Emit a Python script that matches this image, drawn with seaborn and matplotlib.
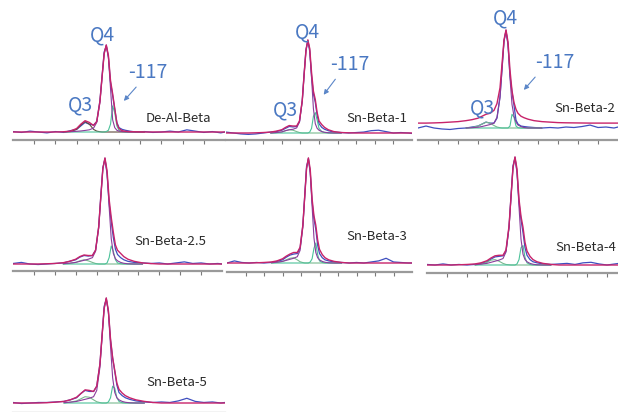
import matplotlib
matplotlib.use("Agg")
import matplotlib.pyplot as plt
from matplotlib.patches import FancyArrowPatch
import seaborn as sns

# ---- data (intensity, main Q4 fit peak = 100) ----
samples = ["De-Al-Beta", "Sn-Beta-1", "Sn-Beta-2", "Sn-Beta-2.5",
           "Sn-Beta-3", "Sn-Beta-4", "Sn-Beta-5"]

ppm = [-70, -74, -78, -82, -86, -90, -94, -97, -100, -102, -104, -106, -108,
       -109.5, -111, -112, -113, -114, -115, -116, -117, -118, -119, -120,
       -121.5, -123, -125, -128, -132, -136, -140, -144, -148, -152, -156,
       -160, -164, -168, -170]
peak_ppm = ppm[6:29]  # -94 ... -132, range of the fitted components

exp_y = [
    [0.5, -0.5, 1, 0, -1, 0.5, -0.5, 1.5, 3, 7, 11, 9, 8, 12, 36, 64, 92, 99, 86, 57,
     42, 26, 11, 5, 3, 2, 1, 0, 0.5, -0.5, 0, 1, 0, 2.5, 1, -0.5, 0.5, -1, 0],
    [1, 0, -1, -1.5, -1, 0, 1, 1.5, 3, 5, 7, 6.5, 7, 12, 35, 64, 90, 99, 88, 61,
     42, 33, 19, 10, 6, 4, 2.5, 1, 0.5, 0, 0.5, 1, 2.5, 3, 1.5, 0, 0.5, 0, -0.5],
    [0, 2, 0, -1, -1.5, -0.5, 0, 1, 2, 4, 6, 5, 5, 10, 32, 60, 89, 99, 85, 53,
     37, 23, 8, 4, 2, 1.5, 1, 0.5, 0, 0.5, 0, 1, 0.5, 1.5, 3, 0.5, 1, 0, 1],
    [0.5, 1.5, 0, -0.5, 0, 0.5, 1, 2.5, 4, 6.5, 8, 7.5, 8, 13, 35, 64, 91, 99, 85, 57,
     40, 25, 14, 9, 6, 4, 2.5, 1.5, 1, 0.5, 1, 0, 1, 2, 0.5, 1, 0, 0.5, 0],
    [0, 2, 0.5, 0, 0.5, 0, 0.5, 1.5, 3, 5.5, 7.5, 8.5, 9, 14, 36, 64, 92, 99, 86, 58,
     42, 32, 17, 9, 5, 3, 2, 1, 0.5, 0, 0.5, 0, 1, 2, 4.5, 1, 0.5, 0, 0],
    [0.5, 0, 1, 0, 0.5, 0, 0.5, 1.5, 3, 5.5, 7.5, 8, 8.5, 13, 35, 64, 92, 99, 86, 58,
     42, 30, 16, 9, 5, 3, 2, 1, 0.5, 1, 1.5, 0.5, 2, 2.5, 1, 0, 1, 2, 0.5],
    [0.5, -0.5, 0, 0.5, 0.5, 1, 1.5, 3, 5, 9, 12, 11, 11, 16, 37, 64, 92, 99, 87, 60,
     43, 30, 17, 10, 7, 5, 3.5, 2, 1, 0.5, 1, 0.5, 2, 4.5, 1.5, 0.5, 1, 0, 0.5],
]

fit_y = [
    [0, 0, 0, 0, 0, 0, 0.3, 1, 4, 9, 13, 11, 7.5, 12, 35, 63, 90, 100, 88, 59,
     44, 27, 10, 4, 1.5, 0.8, 0.4, 0.2, 0, 0, 0, 0, 0, 0, 0, 0, 0, 0, 0],
    [0, 0, 0, 0, 0.2, 0.5, 1, 2, 3.5, 6, 8, 7.5, 7.5, 13, 35, 63, 89, 100, 91, 65,
     45, 36, 22, 13, 9, 6, 3.5, 1.5, 0.5, 0.2, 0, 0, 0, 0, 0, 0, 0, 0, 0],
    [5, 5, 5.2, 5.5, 6, 6.5, 7.5, 8.5, 10, 12, 14, 15, 18, 25, 41, 65, 90, 100, 88, 59,
     38, 26, 19, 15, 12, 10.5, 9, 7.5, 6.5, 6, 5.5, 5.3, 5.2, 5.1, 5, 5, 5, 5, 5],
    [0, 0, 0, 0, 0.2, 0.5, 1.2, 2.5, 4.5, 7, 8.5, 8, 8, 13, 35, 63, 90, 100, 88, 61,
     44, 30, 18, 13, 10, 7, 4.5, 2.5, 1, 0.4, 0, 0, 0, 0, 0, 0, 0, 0, 0],
    [0, 0, 0, 0, 0.2, 0.5, 1, 2, 4, 6.5, 8.5, 10, 10, 15, 36, 63, 90, 100, 89, 61,
     45, 36, 22, 13, 8, 5, 3, 1.5, 0.5, 0, 0, 0, 0, 0, 0, 0, 0, 0, 0],
    [0, 0, 0, 0, 0.2, 0.5, 1, 2, 4, 6.5, 8.5, 9, 9, 14, 36, 63, 90, 100, 89, 61,
     45, 35, 21, 13, 8, 5, 3, 1.5, 0.5, 0, 0, 0, 0, 0, 0, 0, 0, 0, 0],
    [0, 0, 0, 0, 0.3, 0.8, 1.5, 3, 5.5, 9, 12.5, 12, 11, 16, 37, 64, 90, 100, 88, 61,
     43, 31, 19, 13, 9.5, 7, 5, 3, 1.5, 0.5, 0, 0, 0, 0, 0, 0, 0, 0, 0],
]

q3_y = [
    [0, 0.5, 3, 8, 12, 9, 3, 1, 0.3, 0, 0, 0, 0, 0, 0, 0, 0, 0, 0, 0, 0, 0, 0],
    [0, 0.3, 1, 2.5, 3.5, 3, 1.5, 0.5, 0, 0, 0, 0, 0, 0, 0, 0, 0, 0, 0, 0, 0, 0, 0],
    [0, 0.5, 2, 4, 6, 5, 2.5, 1, 0.3, 0, 0, 0, 0, 0, 0, 0, 0, 0, 0, 0, 0, 0, 0],
    [0, 0.5, 1.5, 3, 4, 3, 1.5, 0.5, 0, 0, 0, 0, 0, 0, 0, 0, 0, 0, 0, 0, 0, 0, 0],
    [0, 0.5, 1.5, 3, 4.5, 5, 3, 1.2, 0.4, 0, 0, 0, 0, 0, 0, 0, 0, 0, 0, 0, 0, 0, 0],
    [0, 0.8, 2.5, 4.5, 5, 3.5, 1.5, 0.5, 0.2, 0, 0, 0, 0, 0, 0, 0, 0, 0, 0, 0, 0, 0, 0],
    [0, 0.8, 2, 4, 6, 5.5, 3, 1.2, 0.4, 0, 0, 0, 0, 0, 0, 0, 0, 0, 0, 0, 0, 0, 0],
]

q4_y = [
    [0, 0.3, 0.8, 1.2, 1.8, 2.5, 4.5, 11, 34, 62, 90, 100, 86, 50, 14, 5, 2, 1, 0.5, 0.2, 0, 0, 0],
    [0, 0.5, 1.2, 2.5, 3.5, 4, 5.5, 12, 34, 62, 88, 100, 90, 59, 26, 10, 5, 3, 1.5, 0.8, 0.3, 0, 0],
    [0, 0.3, 0.8, 1.5, 2.5, 3.5, 5, 11, 31, 59, 88, 100, 85, 51, 24, 12, 6, 3, 1.5, 0.5, 0, 0, 0],
    [0.3, 0.8, 1.5, 2.5, 3.5, 4.5, 6, 12, 34, 62, 90, 100, 86, 54, 24, 10, 5, 3, 1.5, 0.7, 0.2, 0, 0],
    [0.3, 0.8, 1.5, 2.5, 3.5, 4.5, 6, 12, 34, 62, 90, 100, 86, 54, 24, 10, 5, 3, 1.5, 0.7, 0.2, 0, 0],
    [0.3, 0.8, 1.5, 2.5, 3.5, 4.5, 6, 12, 34, 62, 90, 100, 86, 54, 24, 10, 5, 3, 1.5, 0.7, 0.2, 0, 0],
    [0.3, 0.8, 1.5, 2.5, 3.5, 4.5, 6, 12, 34, 62, 90, 100, 86, 54, 24, 10, 5, 3, 1.5, 0.7, 0.2, 0, 0],
]

t117_y = [
    [0, 0, 0, 0, 0, 0, 0, 0, 0, 0, 0, 0.5, 2, 9, 30, 22, 7, 2, 0.5, 0, 0, 0, 0],
    [0, 0, 0, 0, 0, 0, 0, 0, 0, 0, 0, 0, 1, 5, 18, 22, 14, 5, 1.5, 0.5, 0, 0, 0],
    [0, 0, 0, 0, 0, 0, 0, 0, 0, 0, 0, 0, 0, 2, 14, 11, 2, 0.3, 0, 0, 0, 0, 0],
    [0, 0, 0, 0, 0, 0, 0, 0, 0, 0, 0, 0, 1, 6, 17, 12, 4, 1, 0.3, 0, 0, 0, 0],
    [0, 0, 0, 0, 0, 0, 0, 0, 0, 0, 0, 0, 1, 4, 14, 19, 8, 2, 0.5, 0, 0, 0, 0],
    [0, 0, 0, 0, 0, 0, 0, 0, 0, 0, 0, 0, 1, 5, 16, 18, 7, 2, 0.5, 0, 0, 0, 0],
    [0, 0, 0, 0, 0, 0, 0, 0, 0, 0, 0, 0, 1, 5, 16, 14, 5, 1.5, 0.3, 0, 0, 0, 0],
]

# ---- layout in pixels: left, right, axis line y, baseline y, peak y ----
W, H = 618, 412
boxes = [
    (13, 225, 140, 132, 45),
    (226, 412, 140, 133, 40),
    (418, 618, 140, 128, 30),
    (13, 222, 271, 264, 158),
    (227, 412, 272, 263, 158),
    (427, 627, 273, 265, 157),
    (13, 225, 412.5, 403, 298),
]
name_pos = [(146, 119), (346, 118), (554, 108), (134, 242), (346, 237), (555, 248), (146, 383)]

sns.set_style("white")
plt.rcParams["font.family"] = ["Noto Sans CJK SC", "DejaVu Sans"]

fig = plt.figure(figsize=(W / 100, H / 100), dpi=100)

blue, mag, purple, teal = "#3f4fbf", "#c8236a", "#8a3d9c", "#4cc29a"

for i, (l, r, ay, by, py) in enumerate(boxes):
    top = py - 12
    ax = fig.add_axes([l / W, 1 - ay / H, (r - l) / W, (ay - top) / H])
    ax.patch.set_alpha(0)
    s = (by - py) / 100.0
    ax.set_ylim(-(ay - by) / s, (by - top) / s)
    ax.set_xlim(-70, -170)

    sns.lineplot(x=ppm, y=exp_y[i], ax=ax, color=blue, lw=0.9, sort=False, estimator=None)
    q3c = "#5e4b3c" if i == 0 else "#79b98f"
    sns.lineplot(x=peak_ppm, y=q3_y[i], ax=ax, color=q3c, lw=0.8, sort=False, estimator=None)
    sns.lineplot(x=peak_ppm, y=t117_y[i], ax=ax, color=teal, lw=0.8, sort=False, estimator=None)
    sns.lineplot(x=peak_ppm, y=q4_y[i], ax=ax, color=purple, lw=0.8, sort=False, estimator=None)
    sns.lineplot(x=ppm, y=fit_y[i], ax=ax, color=mag, lw=1.0, sort=False, estimator=None)

    for side in ["left", "right", "top"]:
        ax.spines[side].set_visible(False)
    ax.spines["bottom"].set_color("#9a9a9a")
    ax.spines["bottom"].set_linewidth(1.6)
    ax.set_xticks(list(range(-80, -161, -10)))
    ax.tick_params(axis="x", bottom=True, direction="out", length=3, width=0.8,
                   colors="#7a7a7a", labelbottom=False)
    ax.set_yticks([])
    ax.set_xlabel("")
    ax.set_ylabel("")

    nx, ny = name_pos[i]
    fig.text(nx / W, 1 - ny / H, samples[i], ha="left", va="center", fontsize=9.5, color="#2b2b2b")

# peak labels on the first row
lab = "#4a78c2"
row1 = [
    ((102, 35), (148, 72), (80, 105), (138, 85), (122, 103)),
    ((307, 32), (350, 65), (285, 110), (337, 77), (322, 97)),
    ((505, 18), (555, 62), (482, 108), (537, 75), (522, 92)),
]
for q4p, tp, q3p, a0, a1 in row1:
    fig.text(q4p[0] / W, 1 - q4p[1] / H, "Q4", ha="center", va="center", fontsize=14, color=lab)
    fig.text(tp[0] / W, 1 - tp[1] / H, "-117", ha="center", va="center", fontsize=14, color=lab)
    fig.text(q3p[0] / W, 1 - q3p[1] / H, "Q3", ha="center", va="center", fontsize=14, color=lab)
    fig.add_artist(FancyArrowPatch((a0[0] / W, 1 - a0[1] / H), (a1[0] / W, 1 - a1[1] / H),
                                   transform=fig.transFigure, arrowstyle="-|>",
                                   mutation_scale=7, color="#5b86c8", lw=0.8))

fig.savefig("out.png", dpi=100)
